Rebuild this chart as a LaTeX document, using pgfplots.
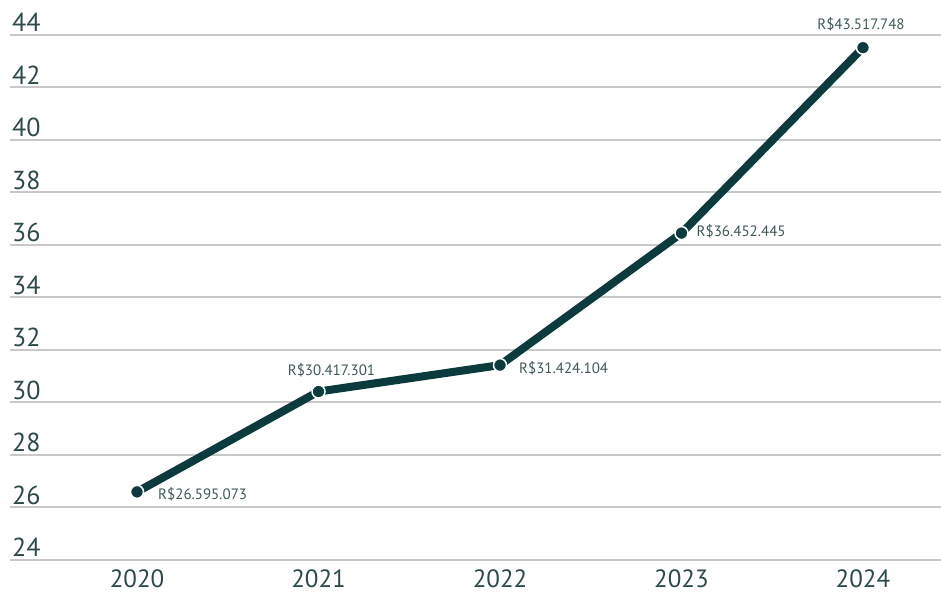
\documentclass[border=0pt]{standalone}
\usepackage{pgfplots}
\pgfplotsset{compat=1.18}
\usepackage{fontspec}
\setmainfont{PT Sans}
\usetikzlibrary{calc}
\definecolor{linec}{HTML}{0B3B3C}
\definecolor{tickc}{HTML}{2C4A4A}
\definecolor{labc}{HTML}{3E5858}
\definecolor{gridc}{HTML}{C8C8C8}
\begin{document}
\begin{tikzpicture}[x=1pt,y=1pt]
\begin{axis}[
  scale only axis,
  width=931pt, height=525pt,
  xmin=2019.30, xmax=2024.43,
  ymin=24, ymax=44,
  xtick={2020,2021,2022,2023,2024},
  xticklabels={2020,2021,2022,2023,2024},
  ytick={24,26,28,30,32,34,36,38,40,42,44},
  yticklabels={24,26,28,30,32,34,36,38,40,42,44},
  axis line style={draw=none},
  major tick length=0pt,
  ymajorgrids,
  grid style={line width=2pt, color=gridc},
  yticklabel style={anchor=base west, inner sep=0pt, xshift=2pt, yshift=3pt, font=\fontsize{26}{30}\selectfont, text=tickc},
  xticklabel style={anchor=north, inner sep=0pt, yshift=-10pt, font=\fontsize{25}{28}\selectfont, text=tickc},
  clip=false,
]
\coordinate (bl) at (rel axis cs:0,0);
\coordinate (tr) at (rel axis cs:1,1);
\addplot[color=linec, line width=8pt, line cap=round, line join=round,
  mark=*, mark size=6.5pt, mark options={fill=linec, draw=white, line width=1.5pt}]
  coordinates {(2020,26.595073) (2021,30.417301) (2022,31.424104) (2023,36.452445) (2024,43.517748)};
\begin{scope}[every node/.style={font=\fontsize{15}{18}\selectfont, text=labc, inner sep=0pt}]
\node[anchor=west, xshift=21pt, yshift=-2pt] at (axis cs:2020,26.595073) {R\$26.595.073};
\node[anchor=center, xshift=13pt, yshift=21pt] at (axis cs:2021,30.417301) {R\$30.417.301};
\node[anchor=west, xshift=19pt, yshift=-3pt] at (axis cs:2022,31.424104) {R\$31.424.104};
\node[anchor=west, xshift=15pt, yshift=2pt] at (axis cs:2023,36.452445) {R\$36.452.445};
\node[anchor=center, xshift=-2pt, yshift=23pt] at (axis cs:2024,43.517748) {R\$43.517.748};
\end{scope}
\end{axis}
\pgfresetboundingbox
\path[use as bounding box] ($(bl)+(-10pt,-34pt)$) rectangle ($(tr)+(0pt,35pt)$);
\end{tikzpicture}
\end{document}
